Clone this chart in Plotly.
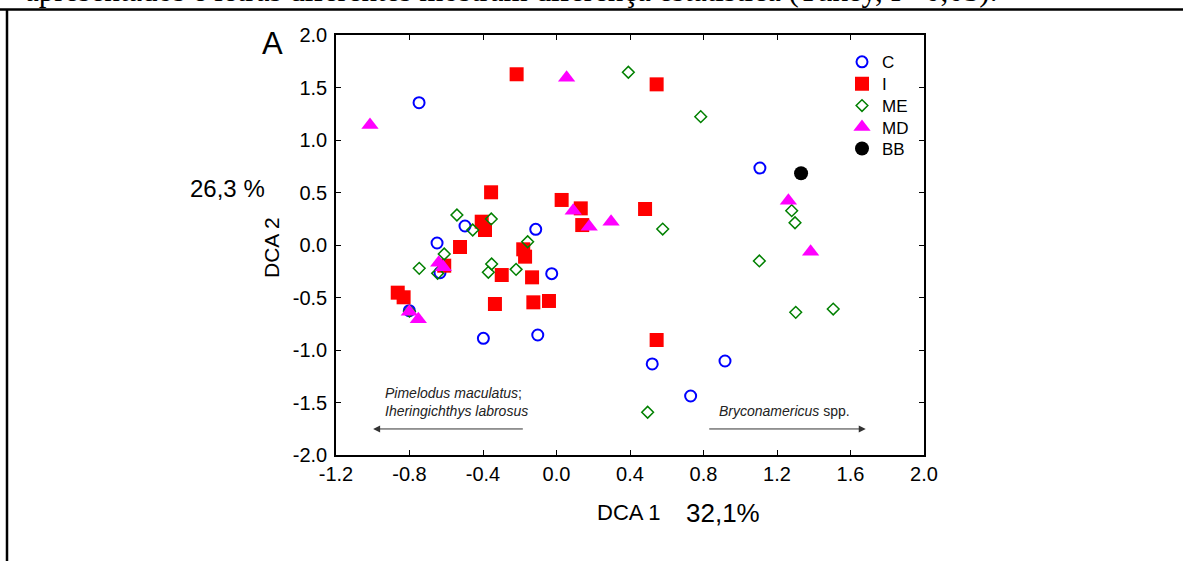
import plotly.graph_objects as go

# ---- data ----
c_x = [-0.748, 1.107, -0.498, -0.113, -0.650, -0.634, -0.026, -0.801, -0.398, -0.102, 0.521, 0.917, 0.730]
c_y = [1.355, 0.733, 0.181, 0.149, 0.019, -0.264, -0.273, -0.625, -0.889, -0.857, -1.133, -1.105, -1.438]

i_x = [-0.217, 0.545, -0.356, 0.028, 0.132, 0.140, 0.482, -0.407, -0.389, -0.525, -0.611,
       -0.181, -0.171, -0.298, -0.133, -0.864, -0.832, -0.335, -0.126, -0.041, 0.545]
i_y = [1.626, 1.530, 0.502, 0.429, 0.349, 0.190, 0.343, 0.222, 0.143, -0.019, -0.197,
       -0.041, -0.111, -0.286, -0.308, -0.454, -0.498, -0.562, -0.546, -0.533, -0.905]

me_x = [0.391, 0.785, -0.542, -0.355, -0.456, -0.157, -0.611, -0.647, -0.747, -0.353,
        -0.371, -0.220, -0.800, 0.578, 1.280, 1.298, 1.104, 1.302, 1.506, 0.496]
me_y = [1.645, 1.222, 0.286, 0.248, 0.143, 0.031, -0.086, -0.270, -0.222, -0.181,
        -0.260, -0.232, -0.630, 0.152, 0.327, 0.212, -0.152, -0.641, -0.610, -1.593]

md_x = [-1.015, 0.055, 0.091, 0.178, 0.297, -0.641, -0.616, -0.801, -0.752, 1.262, 1.383]
md_y = [1.143, 1.593, 0.327, 0.175, 0.222, -0.168, -0.212, -0.635, -0.708, 0.422, -0.064]

bb_x = [1.331]
bb_y = [0.683]

x_ticks = [-1.2, -0.8, -0.4, 0.0, 0.4, 0.8, 1.2, 1.6, 2.0]
y_ticks = [-2.0, -1.5, -1.0, -0.5, 0.0, 0.5, 1.0, 1.5, 2.0]

# ---- layout geometry (pixels) ----
W, H = 1183, 561
L, R, T, B = 336, 924, 35, 455
PW, PH = R - L, B - T


def px(xp):
    return (xp - L) / PW


def py(yp):
    return (B - yp) / PH


legend_rows = [62.3, 84.3, 106, 127.5, 149]

fig = go.Figure()
fig.add_trace(go.Scatter(x=c_x, y=c_y, mode="markers", name="C", legend="legend",
                         marker=dict(symbol="circle-open", size=11, color="#0000FF",
                                     line=dict(width=2, color="#0000FF"))))
fig.add_trace(go.Scatter(x=i_x, y=i_y, mode="markers", name="I", legend="legend2",
                         marker=dict(symbol="square", size=14, color="#FF0000")))
fig.add_trace(go.Scatter(x=me_x, y=me_y, mode="markers", name="ME", legend="legend3",
                         marker=dict(symbol="diamond-open", size=9, color="#008000",
                                     line=dict(width=1.5, color="#008000"))))
fig.add_trace(go.Scatter(x=md_x, y=md_y, mode="markers", name="MD", legend="legend4",
                         marker=dict(symbol="triangle-up", size=15, color="#FF00FF")))
fig.add_trace(go.Scatter(x=bb_x, y=bb_y, mode="markers", name="BB", legend="legend5",
                         marker=dict(symbol="circle", size=14, color="#000000")))

axis_common = dict(showgrid=False, zeroline=False, showline=True, linecolor="black",
                   linewidth=1.5, mirror="ticks", ticks="inside", ticklen=5,
                   tickcolor="black", tickwidth=1,
                   tickfont=dict(family="Liberation Sans, Arial", size=20, color="black"))

fig.update_xaxes(range=[-1.2, 2.0], tickvals=x_ticks,
                 ticktext=[f"{v:.1f}" for v in x_ticks], **axis_common)
fig.update_yaxes(range=[-2.0, 2.0], tickvals=y_ticks, ticklabelstandoff=3,
                 ticktext=[f"{v:.1f}" for v in y_ticks], **axis_common)

annotations = [
    dict(x=px(629), y=py(512), text="DCA 1", font=dict(size=22)),
    dict(x=px(723), y=py(513), text="32,1%", font=dict(size=26)),
    dict(x=px(271), y=py(248), text="DCA 2", font=dict(size=21), textangle=-90),
    dict(x=px(227), y=py(188), text="26,3 %", font=dict(size=24)),
    dict(x=px(272), y=py(43), text="A", font=dict(size=31)),
    dict(x=px(383), y=py(393), text="<i>Pimelodus maculatus</i>;", xanchor="left",
         font=dict(size=14, color="#222")),
    dict(x=px(383), y=py(411), text="<i>Iheringichthys labrosus</i>", xanchor="left",
         font=dict(size=14, color="#222")),
    dict(x=px(717), y=py(411), text="<i>Bryconamericus</i> spp.", xanchor="left",
         font=dict(size=14, color="#222")),
    dict(x=px(23), y=py(-9), text="apresentados e letras diferentes mostram diferença estatística (Tukey, P&lt;0,05).",
         xanchor="left", font=dict(family="Liberation Serif, Times New Roman", size=31)),
]
for a in annotations:
    a.setdefault("xref", "paper")
    a.setdefault("yref", "paper")
    a.setdefault("showarrow", False)
    a.setdefault("xanchor", "center")
    a.setdefault("yanchor", "middle")
    f = a["font"]
    f.setdefault("family", "Liberation Sans, Arial")
    f.setdefault("color", "black")
    fig.add_annotation(**a)

# arrows
fig.add_annotation(x=-0.998, y=-1.752, ax=-0.175, ay=-1.752, xref="x", yref="y",
                   axref="x", ayref="y", showarrow=True, arrowhead=2, arrowsize=1.4,
                   arrowwidth=1, arrowcolor="#333", text="")
fig.add_annotation(x=1.683, y=-1.752, ax=0.823, ay=-1.752, xref="x", yref="y",
                   axref="x", ayref="y", showarrow=True, arrowhead=2, arrowsize=1.4,
                   arrowwidth=1, arrowcolor="#333", text="")

# page frame lines
fig.add_shape(type="line", xref="paper", yref="paper", x0=px(0), x1=px(W), y0=py(9.5), y1=py(9.5),
              line=dict(color="black", width=2.5))
fig.add_shape(type="line", xref="paper", yref="paper", x0=px(7), x1=px(7), y0=py(9), y1=py(H + 5),
              line=dict(color="black", width=2.5))

legend_style = dict(xanchor="left", yanchor="top", bgcolor="rgba(0,0,0,0)", borderwidth=0,
                    font=dict(family="Liberation Sans, Arial", size=17, color="black"))
legends = {}
for k, ry in enumerate(legend_rows):
    key = "legend" if k == 0 else f"legend{k + 1}"
    legends[key] = dict(x=px(842), y=py(ry - 18), **legend_style)

fig.update_layout(
    width=W, height=H,
    margin=dict(l=L, r=W - R, t=T, b=H - B),
    paper_bgcolor="white", plot_bgcolor="white",
    showlegend=True,
    font=dict(family="Liberation Sans, Arial", color="black"),
    **legends,
)

fig.write_html("out.html", config={"displayModeBar": False},
               post_script="document.body.style.margin='0px';")
